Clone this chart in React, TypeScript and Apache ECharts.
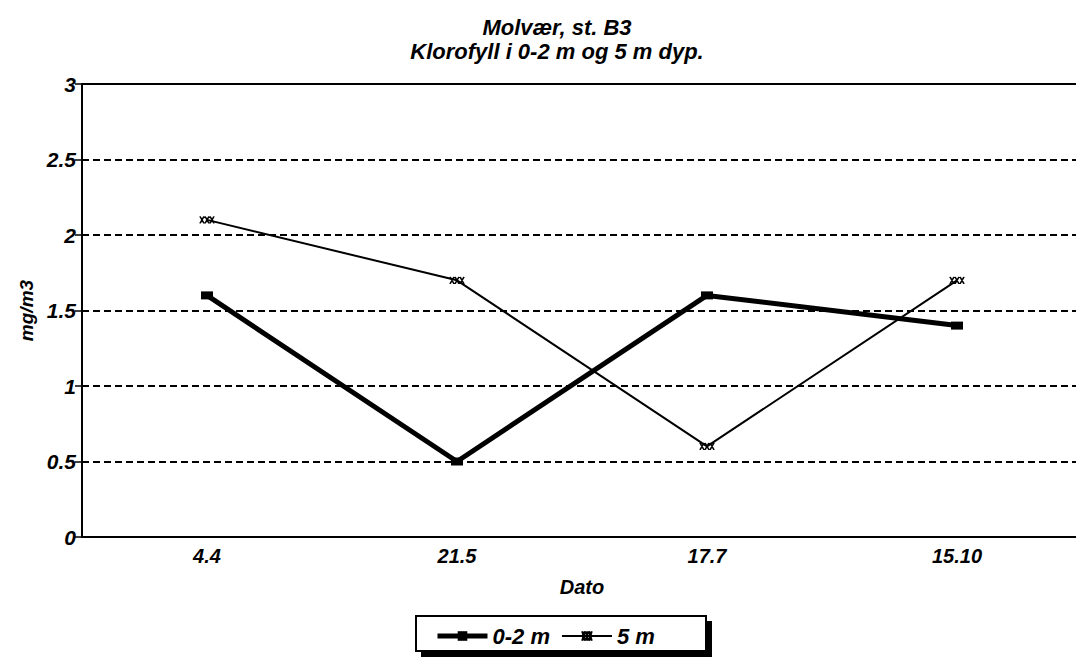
import React, { useEffect, useRef } from "react";
import * as echarts from "echarts";

const categories = ["4.4", "21.5", "17.7", "15.10"];
const series02m = [1.6, 0.5, 1.6, 1.4];
const series5m = [2.1, 1.7, 0.6, 1.7];
const yTicks = [0, 0.5, 1, 1.5, 2, 2.5, 3];

const FONT = "'Liberation Sans', Arial, sans-serif";
const TXT = { fontFamily: FONT, fontWeight: "bold", fontStyle: "italic", color: "#000" } as const;

export default function App() {
  const ref = useRef<HTMLDivElement>(null);
  useEffect(() => {
    if (!ref.current) return;
    const chart = echarts.init(ref.current, null, { renderer: "svg" });
    chart.setOption({
      animation: false,
      backgroundColor: "#ffffff",
      title: {
        text: "Molvær, st. B3\nKlorofyll i 0-2 m og 5 m dyp.",
        left: 552,
        top: 10,
        textAlign: "center",
        textStyle: { ...TXT, fontSize: 22, lineHeight: 24 },
      },
      grid: { left: 82, right: 8, top: 84, bottom: 657 - 537, show: false, containLabel: false },
      legend: {
        left: 430,
        top: 620,
        itemWidth: 50,
        itemHeight: 12,
        itemGap: 11,
        textStyle: { ...TXT, fontSize: 22 },
        data: [
          { name: "0-2 m", lineStyle: { width: 5 } },
          { name: "5 m", lineStyle: { width: 2 } },
        ],
      },
      xAxis: [
        {
          type: "category",
          data: categories,
          boundaryGap: true,
          name: "Dato",
          nameLocation: "middle",
          nameGap: 40,
          nameTextStyle: { ...TXT, fontSize: 20 },
          axisLine: { lineStyle: { color: "#000", width: 2 } },
          axisTick: { alignWithLabel: true, inside: true, length: 6, lineStyle: { color: "#000", width: 1.5 } },
          axisLabel: { ...TXT, fontSize: 20, margin: 9 },
          splitLine: { show: false },
        },
        {
          type: "category",
          data: categories,
          position: "top",
          axisLine: { show: true, lineStyle: { color: "#000", width: 2 } },
          axisTick: { show: false },
          axisLabel: { show: false },
          splitLine: { show: false },
        },
      ],
      yAxis: {
        type: "value",
        min: yTicks[0],
        max: yTicks[yTicks.length - 1],
        interval: 0.5,
        name: "mg/m3",
        nameLocation: "middle",
        nameGap: 46,
        nameRotate: 90,
        nameTextStyle: { ...TXT, fontSize: 19 },
        axisLine: { show: true, lineStyle: { color: "#000", width: 2 } },
        axisTick: { show: true, length: 7, lineStyle: { color: "#000", width: 1.5 } },
        axisLabel: { ...TXT, fontSize: 21, margin: 6, formatter: (v: number) => String(v) },
        splitLine: { show: true, lineStyle: { color: "#000", width: 2, type: [7, 4] } },
      },
      graphic: [
        { type: "rect", left: 421, top: 621, shape: { width: 291, height: 36 }, style: { fill: "#000" }, z: -2 },
        { type: "rect", left: 415, top: 615, shape: { width: 290, height: 35 }, style: { fill: "#fff", stroke: "#000", lineWidth: 2 }, z: -1 },
      ],
      series: [
        {
          name: "0-2 m",
          type: "line",
          data: series02m,
          lineStyle: { color: "#000", width: 5 },
          itemStyle: { color: "#000" },
          symbol: "rect",
          symbolSize: [12, 8],
          showSymbol: true,
        },
        {
          name: "5 m",
          type: "line",
          data: series5m,
          lineStyle: { color: "#000", width: 2 },
          itemStyle: { color: "#000", borderColor: "#000", borderWidth: 1.2 },
          symbol: "path://M0,0L4,8M4,0L0,8M5,0L9,8M9,0L5,8M10,0L14,8M14,0L10,8",
          symbolSize: [14, 7],
          showSymbol: true,
        },
      ],
    });
    return () => chart.dispose();
  }, []);
  return (
    <div style={{ position: "absolute", left: 0, top: 0, width: 1076, height: 657, overflow: "hidden" }}>
      <div ref={ref} style={{ width: 1090, height: 657 }} />
    </div>
  );
}
